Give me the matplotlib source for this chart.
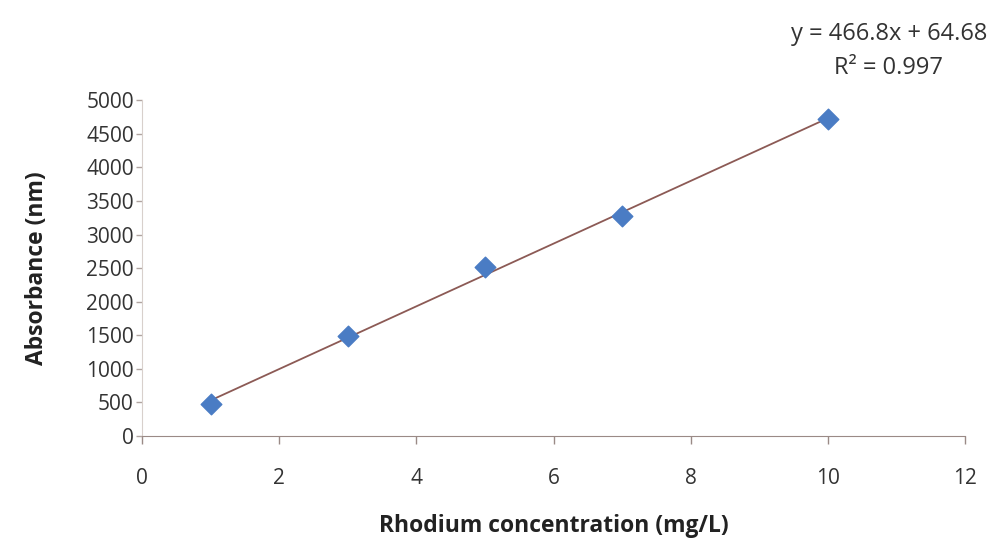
import matplotlib.pyplot as plt
import numpy as np

# =======================
# Data
# =======================
conc = [1, 3, 5, 7, 10]
absorbance = [470, 1490, 2520, 3270, 4720]
slope = 466.8
intercept = 64.68
r2 = 0.997

xticks = [0, 2, 4, 6, 8, 10, 12]
yticks = [0, 500, 1000, 1500, 2000, 2500, 3000, 3500, 4000, 4500, 5000]

plt.rcParams['font.family'] = ['Open Sans', 'DejaVu Sans']

fig = plt.figure(figsize=(10.01, 5.39), dpi=100)
ax = fig.add_axes([0.142, 0.191, 0.822, 0.623])

# trendline
xt = np.array([conc[0], conc[-1]])
ax.plot(xt, slope * xt + intercept, color='#8c5a55', lw=1.3, zorder=2)

# points
ax.scatter(conc, absorbance, marker='D', s=110, color='#4a7cc4',
           edgecolor='#4a7cc4', zorder=3)

ax.set_xlim(0, 12)
ax.set_ylim(0, 5000)
ax.set_xticks(xticks)
ax.set_yticks(yticks)

axis_color = '#9a8a86'
for side in ['top', 'right']:
    ax.spines[side].set_visible(False)
ax.spines['left'].set_color('#d8d0cc')
ax.spines['bottom'].set_color(axis_color)
ax.tick_params(axis='x', direction='out', length=6, width=1, color=axis_color,
               pad=17, labelsize=15, labelcolor='#333333')
ax.tick_params(axis='y', direction='out', length=4, width=1, color='#b0a4a0',
               pad=2, labelsize=15, labelcolor='#333333')

ax.set_xlabel('Rhodium concentration (mg/L)', fontsize=16.5, fontweight='bold',
              labelpad=18, color='#222222')
ax.set_ylabel('Absorbance (nm)', fontsize=16.5, fontweight='bold',
              labelpad=6, color='#222222')
ax.yaxis.set_label_coords(-0.113, 0.5)

# equation
fig.text(0.888, 0.937, f'y = {slope}x + {intercept}', fontsize=17,
         ha='center', va='center', color='#333333')
fig.text(0.888, 0.874, f'R² = {r2}', fontsize=17,
         ha='center', va='center', color='#333333')

fig.savefig('out.png', dpi=100)
